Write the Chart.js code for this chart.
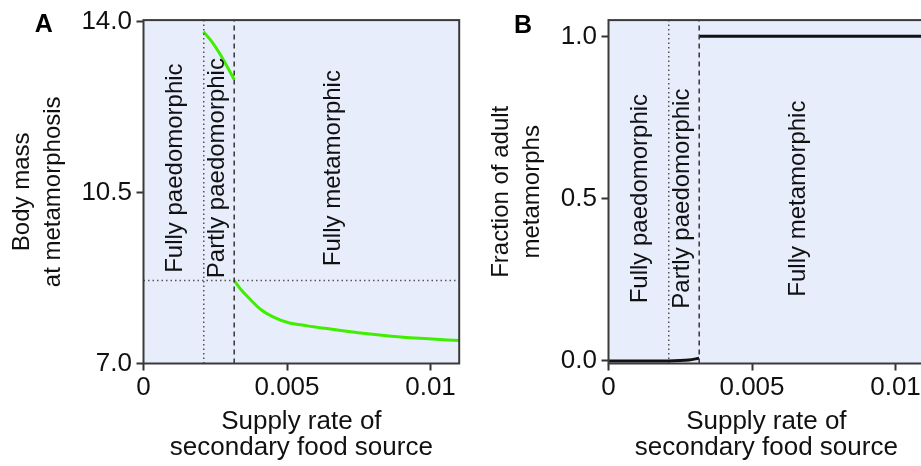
<!DOCTYPE html>
<html>
<head>
<meta charset="utf-8">
<script src="https://cdn.jsdelivr.net/npm/chart.js@4"></script>
<style>
  html, body { margin: 0; padding: 0; background: #fff; overflow: hidden; width: 921px; height: 466px; }
  #wrap { position: relative; width: 921px; height: 466px; overflow: hidden; }
  .panel { position: absolute; top: 0; width: 465px; height: 466px; }
  #pa { left: 0; }
  #pb { left: 465px; }
</style>
</head>
<body>
<div id="wrap">
  <div class="panel" id="pa"><canvas id="ca"></canvas></div>
  <div class="panel" id="pb"><canvas id="cb"></canvas></div>
</div>
<script>
// ---- shared x axis: supply rate of the secondary food source ----
const xTicks = [0, 0.005, 0.01];
const xTickLabels = ['0', '0.005', '0.01'];
const xRange = [0, 0.011];

// regime boundaries
const boundaryPartly = 0.0021;   // fully -> partly paedomorphic
const boundaryMeta = 0.00316;    // partly paedomorphic -> fully metamorphic

// regime labels and where they sit along x
const regionNames = ['Fully paedomorphic', 'Partly paedomorphic', 'Fully metamorphic'];
const regionLabelX = [0.0011, 0.00257, 0.0066];

// ---- panel A: body mass at metamorphosis ----
const massTicks = [7, 10.5, 14];
const massTickLabels = ['7.0', '10.5', '14.0'];
const massRange = [7, 14.03];
const massThreshold = 8.70;
const massLabelY = 11.0;

const supplyUpper = [0.00209, 0.00238, 0.00267, 0.003155];
const massUpper   = [13.79,   13.59,   13.33,   12.82];

const supplyLower = [0.003155, 0.0034, 0.00364, 0.0041, 0.00457, 0.00503, 0.00572, 0.00632, 0.00748, 0.00864, 0.00980, 0.011];
const massLower   = [8.70,     8.51,   8.36,    8.10,   7.94,    7.84,    7.77,    7.72,    7.63,    7.56,    7.51,    7.47];

// ---- panel B: fraction of adult metamorphs ----
const fracTicks = [0, 0.5, 1];
const fracTickLabels = ['0.0', '0.5', '1.0'];
const fracRange = [-0.008, 1.05];
const fracLabelY = 0.5;

const supplyFracLow = [0, 0.00209, 0.0025, 0.0028, 0.003155];
const fracLow       = [0, 0,       0.001,  0.003,  0.008];
const supplyFracHigh = [0.003155, 0.011];
const fracHigh       = [1,        1];

const FONT = '"Liberation Sans", Arial, Helvetica, sans-serif';
Chart.defaults.font.family = FONT;
Chart.defaults.color = '#111';

const pts = (xs, ys) => xs.map((v, i) => ({ x: v, y: ys[i] }));

const panelPlugin = {
  id: 'panelDecor',
  beforeDatasetsDraw(chart) {
    const { ctx, chartArea: a } = chart;
    ctx.save();
    ctx.fillStyle = '#e8edfc';
    ctx.fillRect(a.left, a.top, a.right - a.left, a.bottom - a.top);
    ctx.restore();
  },
  afterDatasetsDraw(chart, args, opts) {
    const { ctx, chartArea: a, scales: { x, y } } = chart;
    ctx.save();
    ctx.font = '24px ' + FONT;
    ctx.fillStyle = '#111';
    ctx.textAlign = 'center';
    ctx.textBaseline = 'middle';
    regionNames.forEach((t, i) => {
      ctx.save();
      ctx.translate(x.getPixelForValue(regionLabelX[i]), y.getPixelForValue(opts.labelY));
      ctx.rotate(-Math.PI / 2);
      ctx.fillText(t, 0, 0);
      ctx.restore();
    });
    ctx.strokeStyle = '#3a3a3a';
    ctx.lineWidth = 2;
    ctx.strokeRect(a.left, a.top, a.right - a.left, a.bottom - a.top);
    ctx.font = 'bold 25px ' + FONT;
    ctx.fillStyle = '#000';
    ctx.fillText(opts.letter, opts.letterX, opts.letterY);
    ctx.restore();
  }
};

function refLines(yMin, yMax, withThreshold) {
  const sets = [
    { data: pts([boundaryPartly, boundaryPartly], [yMin, yMax]), borderColor: '#555', borderWidth: 1.5, borderDash: [1.5, 3] },
    { data: pts([boundaryMeta, boundaryMeta], [yMin, yMax]), borderColor: '#333', borderWidth: 1.5, borderDash: [5, 4] }
  ];
  if (withThreshold !== undefined) {
    sets.push({ data: pts(xRange, [withThreshold, withThreshold]), borderColor: '#555', borderWidth: 1.5, borderDash: [1.5, 3] });
  }
  return sets.map(s => Object.assign({ pointRadius: 0, tension: 0, fill: false }, s));
}

function makeChart(id, cfg) {
  const tickGrid = { display: true, drawOnChartArea: false, drawTicks: true, tickLength: 7, tickWidth: 2, tickColor: '#333' };
  return new Chart(document.getElementById(id), {
    type: 'line',
    data: { datasets: cfg.datasets },
    options: {
      responsive: true,
      maintainAspectRatio: false,
      animation: false,
      devicePixelRatio: 1,
      layout: { padding: { top: 15, right: 5.8, bottom: 0, left: 0 } },
      plugins: {
        legend: { display: false },
        tooltip: { enabled: false },
        panelDecor: { letter: cfg.letter, letterX: cfg.letterX, letterY: cfg.letterY, labelY: cfg.labelY }
      },
      scales: {
        x: {
          type: 'linear',
          min: xRange[0], max: xRange[1],
          grid: tickGrid,
          border: { display: false },
          afterBuildTicks: s => { s.ticks = xTicks.map(v => ({ value: v })); },
          afterFit: s => { s.height = 102.5; },
          ticks: {
            autoSkip: false, maxRotation: 0, padding: 2,
            font: { size: 26 }, color: '#111',
            callback: (v) => xTickLabels[xTicks.indexOf(v)]
          },
          title: {
            display: true,
            text: ['Supply rate of', 'secondary food source'],
            font: { size: 26, lineHeight: 1.02 }, color: '#111',
            padding: { top: 0, bottom: 4.6 }
          }
        },
        y: {
          type: 'linear',
          min: cfg.yRange[0], max: cfg.yRange[1],
          grid: tickGrid,
          border: { display: false },
          afterBuildTicks: s => { s.ticks = cfg.yTicks.map(v => ({ value: v })); },
          afterFit: s => { s.width = 143.5; },
          ticks: {
            autoSkip: false, padding: 4.5,
            font: { size: 26 }, color: '#111',
            callback: (v) => cfg.yTickLabels[cfg.yTicks.indexOf(v)]
          },
          title: {
            display: true,
            text: cfg.yTitle,
            font: { size: 24, lineHeight: 1.3 }, color: '#111',
            padding: { top: cfg.yTitlePad, bottom: 0 }
          }
        }
      }
    },
    plugins: [panelPlugin]
  });
}

// Panel A
makeChart('ca', {
  letter: 'A', letterX: 43.7, letterY: 25, labelY: massLabelY,
  yRange: massRange, yTicks: massTicks, yTickLabels: massTickLabels,
  yTitle: ['Body mass', 'at metamorphosis'], yTitlePad: 7,
  datasets: [
    ...refLines(massRange[0], massRange[1], massThreshold),
    { data: pts(supplyUpper, massUpper), borderColor: '#40ee00', borderWidth: 3, pointRadius: 0, cubicInterpolationMode: 'monotone', fill: false },
    { data: pts(supplyLower, massLower), borderColor: '#40ee00', borderWidth: 3, pointRadius: 0, cubicInterpolationMode: 'monotone', fill: false }
  ]
});

// Panel B
makeChart('cb', {
  letter: 'B', letterX: 58, letterY: 26.5, labelY: fracLabelY,
  yRange: fracRange, yTicks: fracTicks, yTickLabels: fracTickLabels,
  yTitle: ['Fraction of adult', 'metamorphs'], yTitlePad: 21,
  datasets: [
    ...refLines(fracRange[0], fracRange[1]),
    { data: pts(supplyFracLow, fracLow), borderColor: '#111', borderWidth: 3, pointRadius: 0, cubicInterpolationMode: 'monotone', fill: false },
    { data: pts(supplyFracHigh, fracHigh), borderColor: '#111', borderWidth: 3, pointRadius: 0, tension: 0, fill: false }
  ]
});
</script>
</body>
</html>
